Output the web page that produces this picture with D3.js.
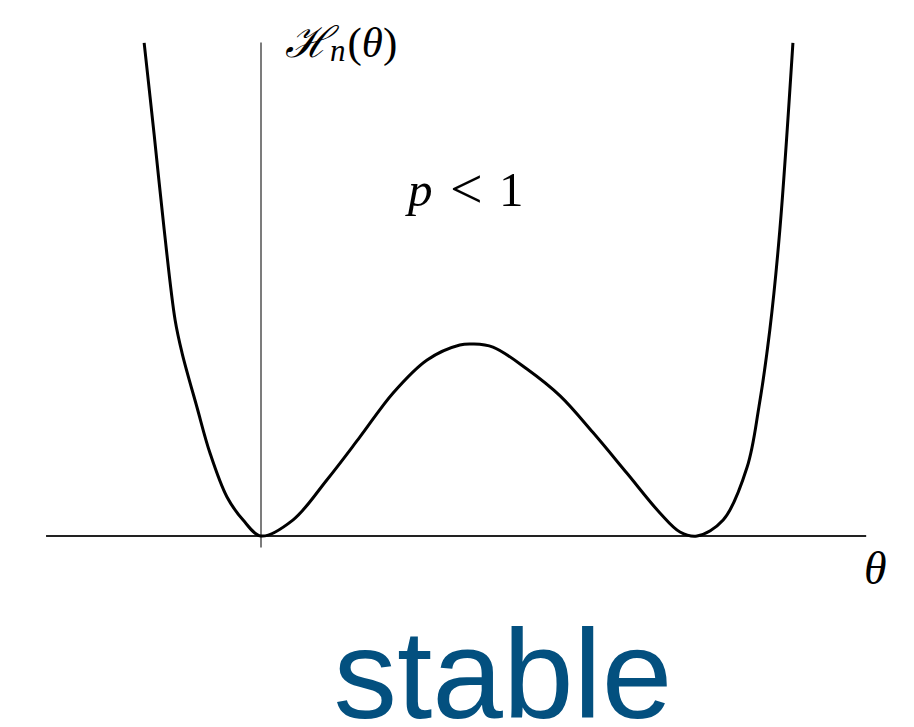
<!DOCTYPE html>
<html>
<head>
<meta charset="utf-8">
<script src="https://cdn.jsdelivr.net/npm/d3@7"></script>
<style>
  html, body { margin: 0; padding: 0; background: #fff; }
  svg { display: block; }
  .math { font-family: "Liberation Serif", "DejaVu Serif", serif; }
</style>
</head>
<body>
<svg id="chart" width="914" height="727"></svg>
<script>
// Double-well potential H_n(theta): sampled theta positions and heights
// (heights in units of the central hump, minima at theta = 0 and theta = 1)
const theta = [-0.268, -0.245, -0.222, -0.197, -0.181, -0.147, -0.117, -0.078, -0.041, 0.000,
               0.073, 0.151, 0.227, 0.303, 0.381, 0.456, 0.486, 0.532, 0.610, 0.686,
               0.761, 0.839, 0.915, 0.961, 1.000, 1.060, 1.115, 1.142, 1.167, 1.190,
               1.220];
const hValues = [2.568, 2.089, 1.594, 1.125, 0.953, 0.672, 0.432, 0.203, 0.083, 0.000,
                 0.083, 0.292, 0.516, 0.745, 0.917, 0.995, 1.000, 0.984, 0.870, 0.730,
                 0.540, 0.328, 0.120, 0.021, 0.000, 0.083, 0.359, 0.672, 1.073, 1.594,
                 2.568];

// Axis extents in data units
const thetaExtent = [-0.493, 1.388];
const hExtent = [-0.06, 2.57];

const svg = d3.select("#chart");

const x = d3.scaleLinear().domain([0, 1]).range([261, 697]);
const y = d3.scaleLinear().domain([0, 1]).range([536, 344]);

// vertical axis
svg.append("line")
  .attr("x1", x(0)).attr("x2", x(0))
  .attr("y1", y(hExtent[0])).attr("y2", y(hExtent[1]))
  .attr("stroke", "#6e6e6e").attr("stroke-width", 1.8);

// horizontal axis
svg.append("line")
  .attr("x1", x(thetaExtent[0])).attr("x2", x(thetaExtent[1]))
  .attr("y1", y(0)).attr("y2", y(0))
  .attr("stroke", "#222").attr("stroke-width", 1.8);

// the potential curve
const pts = theta.map((t, i) => [t, hValues[i]]);
const line = d3.line()
  .x(d => x(d[0]))
  .y(d => y(d[1]))
  .curve(d3.curveCatmullRom.alpha(0.5));

svg.append("path")
  .datum(pts)
  .attr("d", line)
  .attr("fill", "none")
  .attr("stroke", "#000")
  .attr("stroke-width", 3)
  .attr("stroke-linejoin", "round");

// y-axis label  H_n(θ)
const yl = svg.append("text").attr("class", "math")
  .attr("x", 285).attr("y", 57).attr("font-size", 43);
yl.append("tspan").attr("font-style", "italic").text("ℋ");
yl.append("tspan").attr("font-style", "italic").attr("font-size", 31).attr("dy", 4).text("n");
yl.append("tspan").attr("dy", -4).attr("dx", 2).text("(");
yl.append("tspan").attr("font-style", "italic").text("θ");
yl.append("tspan").text(")");

// regime annotation  p < 1
const ann = svg.append("text").attr("class", "math")
  .attr("y", 206).attr("font-size", 49);
ann.append("tspan").attr("x", 408).attr("font-style", "italic").text("p");
ann.append("tspan").attr("x", 450).attr("font-size", 58).attr("dy", 2).text("<");
ann.append("tspan").attr("x", 499).attr("dy", -2).text("1");

// x-axis label
svg.append("text").attr("class", "math")
  .attr("x", 864).attr("y", 584)
  .attr("font-size", 46).attr("font-style", "italic")
  .text("θ");

// caption
svg.append("text")
  .attr("x", 503).attr("y", 718)
  .attr("text-anchor", "middle")
  .attr("font-family", "'Liberation Sans', Arial, sans-serif")
  .attr("font-size", 127)
  .attr("fill", "#03507f")
  .text("stable");
</script>
</body>
</html>
